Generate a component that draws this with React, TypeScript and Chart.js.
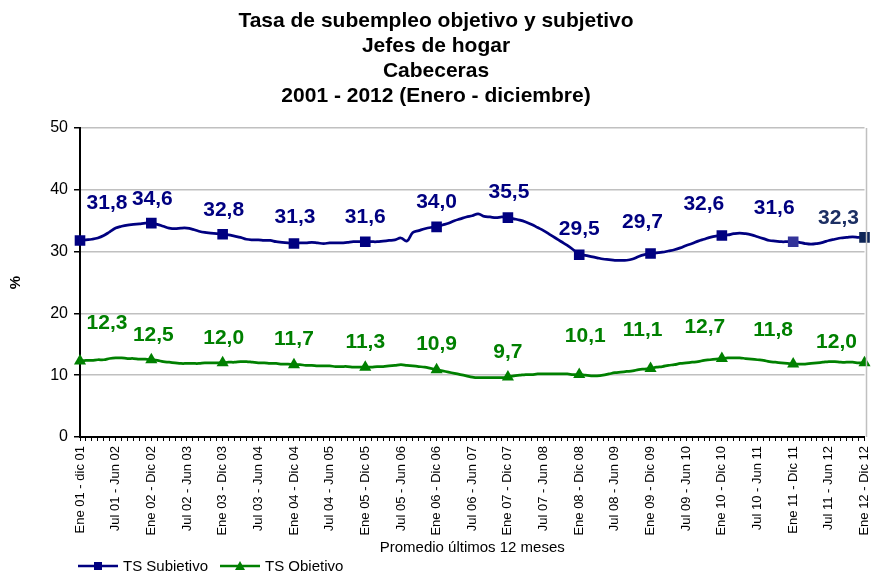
import React, { useEffect, useRef } from 'react';
import { Chart, registerables } from 'chart.js';

Chart.register(...registerables);

const TITLE_LINES = [
  'Tasa de subempleo objetivo y subjetivo',
  'Jefes de hogar',
  'Cabeceras',
  '2001 - 2012 (Enero - diciembre)',
];

const MONTHS = ['Ene', 'Feb', 'Mar', 'Abr', 'May', 'Jun', 'Jul', 'Ago', 'Sep', 'Oct', 'Nov', 'Dic'];

const TICK_LABELS = [
  'Ene 01 - dic 01', 'Jul 01 - Jun 02', 'Ene 02 - Dic 02', 'Jul 02 - Jun 03', 'Ene 03 - Dic 03',
  'Jul 03 - Jun 04', 'Ene 04 - Dic 04', 'Jul 04 - Jun 05', 'Ene 05 - Dic 05', 'Jul 05 - Jun 06',
  'Ene 06 - Dic 06', 'Jul 06 - Jun 07', 'Ene 07 - Dic 07', 'Jul 07 - Jun 08', 'Ene 08 - Dic 08',
  'Jul 08 - Jun 09', 'Ene 09 - Dic 09', 'Jul 09 - Jun 10', 'Ene 10 - Dic 10', 'Jul 10 - Jun 11',
  'Ene 11 - Dic 11', 'Jul 11 - Jun 12', 'Ene 12 - Dic 12',
];

// 12-month rolling windows ending Dec 2001 ... Dec 2012
const CATEGORIES: string[] = [];
for (let i = 0; i < 133; i++) {
  const endAbs = 2001 * 12 + 11 + i;
  const startAbs = endAbs - 11;
  const yy = (n: number) => String(Math.floor(n / 12) % 100).padStart(2, '0');
  CATEGORIES.push(`${MONTHS[startAbs % 12]} ${yy(startAbs)} - ${MONTHS[endAbs % 12]} ${yy(endAbs)}`);
}

const TS_SUBJETIVO = [
  31.8, 31.9, 32.0, 32.2, 32.6, 33.2, 33.8, 34.1, 34.3, 34.4, 34.5, 34.6,
  34.6, 34.4, 34.1, 33.8, 33.7, 33.8, 33.8, 33.6, 33.3, 33.1, 33.0, 32.9,
  32.8, 32.7, 32.5, 32.3, 32.0, 31.9, 31.9, 31.8, 31.8, 31.6, 31.5, 31.4,
  31.3, 31.4, 31.4, 31.5, 31.4, 31.3, 31.4, 31.4, 31.4, 31.5, 31.6, 31.6,
  31.6, 31.6, 31.6, 31.7, 31.8, 31.9, 32.2, 31.7, 33.1, 33.4, 33.7, 33.9,
  34.0, 34.3, 34.6, 35.0, 35.3, 35.6, 35.8, 36.1, 35.7, 35.6, 35.5, 35.6,
  35.5, 35.3, 35.1, 34.8, 34.4, 33.9, 33.4, 32.8, 32.2, 31.6, 31.0, 30.3,
  29.5, 29.4, 29.2, 29.0, 28.8, 28.7, 28.6, 28.6, 28.6, 28.8, 29.2, 29.5,
  29.7, 29.8, 29.9, 30.1, 30.3, 30.6, 31.0, 31.3, 31.7, 32.0, 32.3, 32.5,
  32.6, 32.7, 32.9, 33.0, 32.9, 32.7, 32.4, 32.1, 31.8, 31.7, 31.6, 31.6,
  31.6, 31.5, 31.3, 31.2, 31.3, 31.5, 31.8, 32.0, 32.2, 32.3, 32.4, 32.3,
  32.3,
];

const TS_OBJETIVO = [
  12.3, 12.4, 12.4, 12.5, 12.5, 12.7, 12.8, 12.8, 12.7, 12.7, 12.6, 12.6,
  12.5, 12.4, 12.2, 12.1, 12.0, 11.9, 11.9, 11.9, 11.9, 12.0, 12.0, 12.0,
  12.0, 12.1, 12.1, 12.2, 12.2, 12.1, 12.0, 12.0, 11.9, 11.9, 11.8, 11.8,
  11.7, 11.7, 11.6, 11.6, 11.5, 11.5, 11.5, 11.4, 11.4, 11.4, 11.3, 11.3,
  11.3, 11.3, 11.4, 11.4, 11.5, 11.6, 11.7, 11.6, 11.5, 11.4, 11.3, 11.1,
  10.9, 10.7, 10.5, 10.3, 10.1, 9.9, 9.7, 9.6, 9.6, 9.6, 9.6, 9.6,
  9.7, 9.9, 10.0, 10.1, 10.1, 10.2, 10.2, 10.2, 10.2, 10.2, 10.2, 10.1,
  10.1, 10.0, 9.9, 9.9, 10.0, 10.2, 10.4, 10.5, 10.6, 10.7, 10.9, 11.0,
  11.1, 11.3, 11.4, 11.6, 11.7, 11.9, 12.0, 12.1, 12.2, 12.4, 12.5, 12.6,
  12.7, 12.8, 12.8, 12.8, 12.7, 12.6, 12.5, 12.4, 12.2, 12.1, 12.0, 11.9,
  11.8, 11.8, 11.8, 11.9, 12.0, 12.1, 12.2, 12.2, 12.1, 12.1, 12.1, 12.0,
  12.0,
];

const SERIES_NAMES = ['TS Subjetivo', 'TS Objetivo'];
const X_TITLE = 'Promedio últimos 12 meses';
const Y_TITLE = '%';

const NAVY = '#000080';
const GREEN = '#008000';
const FONT = '"Liberation Sans", Arial, sans-serif';

// label center offsets (px) relative to the yearly marker
const SUBJ_LABEL_OFFSETS = [
  [27, -37], [1, -24], [1, -24], [1, -26], [0, -25], [0, -25],
  [1, -25], [0, -25], [-8, -31], [-18, -31], [-19, -34], [-26, -19],
];
const OBJ_LABEL_OFFSETS = [
  [27, -38], [2, -25], [1, -25], [0, -25], [0, -25], [0, -25],
  [0, -25], [6, -38], [-8, -38], [-17, -31], [-20, -34], [-28, -21],
];
const SUBJ_LABEL_COLORS = [NAVY, NAVY, NAVY, NAVY, NAVY, NAVY, NAVY, NAVY, NAVY, NAVY, NAVY, '#1c2f63'];

const fmt = (v: number) => v.toFixed(1).replace('.', ',');

const subjPointColors = TS_SUBJETIVO.map((_, i) => (i === 120 ? '#333399' : i === 132 ? '#0f2657' : NAVY));

const overlayPlugin = {
  id: 'overlay',
  afterDraw(chart: any) {
    const ctx = chart.ctx;
    const area = chart.chartArea;
    ctx.save();
    // right plot border
    ctx.strokeStyle = '#c0c0c0';
    ctx.lineWidth = 1.5;
    ctx.beginPath();
    ctx.moveTo(area.right + 2, area.top);
    ctx.lineTo(area.right + 2, area.bottom);
    ctx.stroke();

    // title
    ctx.fillStyle = '#000';
    ctx.font = `bold 21px ${FONT}`;
    ctx.textAlign = 'center';
    ctx.textBaseline = 'middle';
    TITLE_LINES.forEach((t, i) => ctx.fillText(t, 436, 21 + i * 25));

    // data labels
    ctx.font = `bold 21px ${FONT}`;
    const draw = (dsIndex: number, offsets: number[][], colors: string[] | null, color: string) => {
      const meta = chart.getDatasetMeta(dsIndex);
      const data = chart.data.datasets[dsIndex].data as number[];
      for (let k = 0; k * 12 < data.length; k++) {
        const idx = k * 12;
        const el = meta.data[idx];
        const [dx, dy] = offsets[k];
        ctx.fillStyle = colors ? colors[k] : color;
        ctx.fillText(fmt(data[idx]), el.x + dx, el.y + dy);
      }
    };
    draw(0, SUBJ_LABEL_OFFSETS, SUBJ_LABEL_COLORS, NAVY);
    draw(1, OBJ_LABEL_OFFSETS, null, GREEN);

    // legend
    const ly = 566;
    const legendItem = (x0: number, color: string, style: string, text: string) => {
      ctx.strokeStyle = color;
      ctx.fillStyle = color;
      ctx.lineWidth = 2.5;
      ctx.beginPath();
      ctx.moveTo(x0, ly);
      ctx.lineTo(x0 + 40, ly);
      ctx.stroke();
      const cx = x0 + 20;
      ctx.beginPath();
      if (style === 'rect') {
        ctx.rect(cx - 4, ly - 4, 8, 8);
      } else {
        ctx.moveTo(cx, ly - 5);
        ctx.lineTo(cx + 5, ly + 4);
        ctx.lineTo(cx - 5, ly + 4);
        ctx.closePath();
      }
      ctx.fill();
      ctx.fillStyle = '#000';
      ctx.font = `15px ${FONT}`;
      ctx.textAlign = 'left';
      ctx.fillText(text, x0 + 45, ly + 1);
    };
    legendItem(78, NAVY, 'rect', SERIES_NAMES[0]);
    legendItem(220, GREEN, 'triangle', SERIES_NAMES[1]);
    ctx.restore();
  },
};

export default function App() {
  const ref = useRef<HTMLCanvasElement>(null);
  useEffect(() => {
    const canvas = ref.current!;
    const chart = new Chart(canvas, {
      type: 'line',
      data: {
        labels: CATEGORIES,
        datasets: [
          {
            label: SERIES_NAMES[0],
            data: TS_SUBJETIVO,
            borderColor: NAVY,
            backgroundColor: subjPointColors,
            pointBackgroundColor: subjPointColors,
            pointBorderColor: subjPointColors,
            borderWidth: 2.75,
            tension: 0.4,
            pointStyle: 'rect',
            pointRadius: TS_SUBJETIVO.map((_, i) => (i % 12 === 0 ? 7.5 : 0)),
            pointBorderWidth: 0,
          },
          {
            label: SERIES_NAMES[1],
            data: TS_OBJETIVO,
            borderColor: GREEN,
            backgroundColor: GREEN,
            pointBackgroundColor: GREEN,
            pointBorderColor: GREEN,
            borderWidth: 2.75,
            tension: 0.4,
            pointStyle: 'triangle',
            pointRadius: TS_OBJETIVO.map((_, i) => (i % 12 === 0 ? 7 : 0)),
            pointBorderWidth: 0,
          },
        ],
      },
      options: {
        animation: false,
        responsive: false,
        devicePixelRatio: 1,
        layout: { padding: { top: 128, left: 0, right: 2, bottom: 14 } },
        plugins: {
          legend: { display: false },
          title: { display: false },
          tooltip: { enabled: false },
        },
        scales: {
          x: {
            type: 'category',
            offset: false,
            grid: {
              display: true,
              drawOnChartArea: false,
              drawTicks: true,
              tickLength: 4,
              tickColor: '#000',
              tickWidth: 1,
            },
            border: { display: true, color: '#000', width: 2 },
            ticks: {
              autoSkip: false,
              maxRotation: 90,
              minRotation: 90,
              padding: 5,
              color: '#000',
              font: { family: FONT, size: 13 },
              callback: (_v: any, i: number) => (i % 6 === 0 ? TICK_LABELS[i / 6] : ''),
            },
            title: {
              display: true,
              text: X_TITLE,
              color: '#000',
              font: { family: FONT, size: 15 },
              padding: { top: 0, bottom: 0 },
            },
            afterFit: (scale: any) => {
              scale.height = 120;
              scale.paddingRight = 0;
              scale.paddingLeft = 0;
            },
          },
          y: {
            min: 0,
            max: 50,
            ticks: {
              stepSize: 10,
              padding: 6,
              color: '#000',
              font: { family: FONT, size: 16 },
            },
            grid: {
              color: '#c0c0c0',
              lineWidth: 1.5,
              drawTicks: true,
              tickLength: 6,
              tickColor: '#000',
            },
            border: { display: true, color: '#000', width: 2 },
            title: {
              display: true,
              text: Y_TITLE,
              color: '#000',
              font: { family: FONT, size: 15, weight: 'bold' },
              padding: { top: 7, bottom: 7 },
            },
            afterFit: (scale: any) => {
              scale.width = 80;
            },
          },
        },
      },
      plugins: [overlayPlugin],
    } as any);
    return () => chart.destroy();
  }, []);
  return (
    <div style={{ position: 'absolute', left: 0, top: 0, width: 872, height: 571, background: '#fff' }}>
      <canvas ref={ref} width={872} height={571} />
    </div>
  );
}
